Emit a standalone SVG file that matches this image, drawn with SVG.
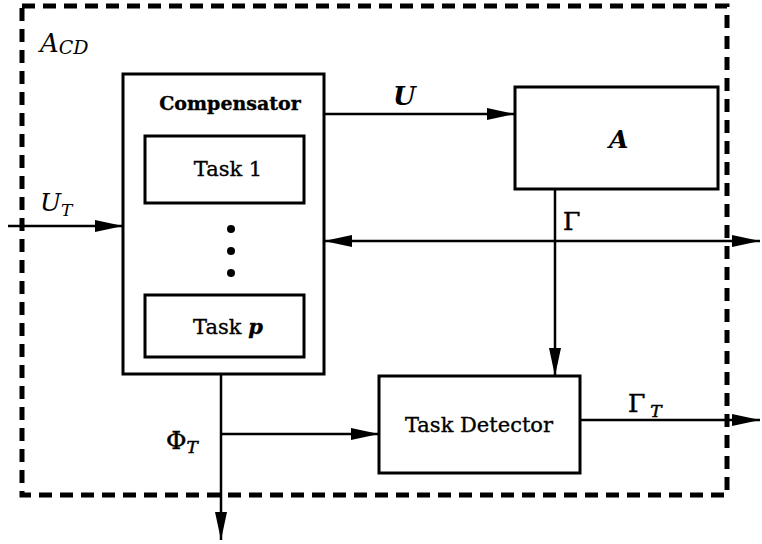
<svg xmlns="http://www.w3.org/2000/svg" width="762" height="544" viewBox="0 0 762 544">
<style>
.box{fill:none;stroke:#000;stroke-width:3}
.ln{fill:none;stroke:#000;stroke-width:2.5}
.t{font-family:"DejaVu Serif","Liberation Serif",serif;fill:#000;text-anchor:middle;stroke:#000;stroke-width:0.35}
.g{font-family:"DejaVu Serif","Liberation Serif",serif;fill:#000;stroke:#000;stroke-width:0.5}
.i{font-style:italic}
.m{font-family:"DejaVu Serif","Liberation Serif",serif;font-style:italic;fill:#000}
</style>
<defs>
<marker id="ah" markerUnits="userSpaceOnUse" markerWidth="30" markerHeight="14" refX="28" refY="7" orient="auto">
<path d="M0,1 L28,7 L0,13 Z" fill="#000"/>
</marker>
</defs>
<rect x="22" y="6" width="705" height="489" fill="none" stroke="#000" stroke-width="5" stroke-dasharray="13,8"/>
<text class="m" x="40" y="52" font-size="26">A<tspan font-size="19" dy="2">CD</tspan></text>
<g id="compensator">
<rect class="box" x="123" y="74" width="201" height="300"/>
<text class="t" x="230" y="110" font-size="19" font-weight="bold">Compensator</text>
</g>
<g id="task1">
<rect class="box" x="145" y="136" width="159" height="67"/>
<text class="t" x="228" y="176" font-size="21">Task 1</text>
</g>
<g id="dots">
<circle cx="231" cy="229" r="4"/>
<circle cx="231" cy="251" r="4"/>
<circle cx="231" cy="273" r="4"/>
</g>
<g id="taskp">
<rect class="box" x="145" y="295" width="159" height="62"/>
<text class="t" x="228" y="334" font-size="21">Task <tspan class="i" font-weight="bold">p</tspan></text>
</g>
<g id="A">
<rect class="box" x="515" y="87" width="203" height="102"/>
<text class="m" x="609" y="148" font-size="25" font-weight="bold">A</text>
</g>
<g id="detector">
<rect class="box" x="379" y="376" width="201" height="97"/>
<text class="t" x="479" y="432" font-size="21">Task Detector</text>
</g>
<g id="connectors">
<line class="ln" x1="324" y1="114" x2="515" y2="114" marker-end="url(#ah)"/>
<line class="ln" x1="8" y1="226" x2="123" y2="226" marker-end="url(#ah)"/>
<line class="ln" x1="555" y1="189" x2="555" y2="376" marker-end="url(#ah)"/>
<line class="ln" x1="555" y1="241" x2="324" y2="241" marker-end="url(#ah)"/>
<line class="ln" x1="555" y1="241" x2="760" y2="241" marker-end="url(#ah)"/>
<line class="ln" x1="580" y1="420" x2="760" y2="420" marker-end="url(#ah)"/>
<line class="ln" x1="221" y1="374" x2="221" y2="540" marker-end="url(#ah)"/>
<line class="ln" x1="221" y1="434" x2="379" y2="434" marker-end="url(#ah)"/>
</g>
<g id="labels">
<text class="m" x="393" y="105" font-size="26" font-weight="bold">U</text>
<text class="m" x="40" y="211" font-size="25">U<tspan font-size="17" dy="5">T</tspan></text>
<text class="g" x="563" y="230" font-size="25">Γ</text>
<text class="g" x="628" y="412" font-size="25">Γ<tspan class="i" font-size="17" dy="5" dx="5">T</tspan></text>
<text class="g" x="166" y="449" font-size="25">Φ<tspan class="i" font-size="17" dy="4">T</tspan></text>
</g>
</svg>
